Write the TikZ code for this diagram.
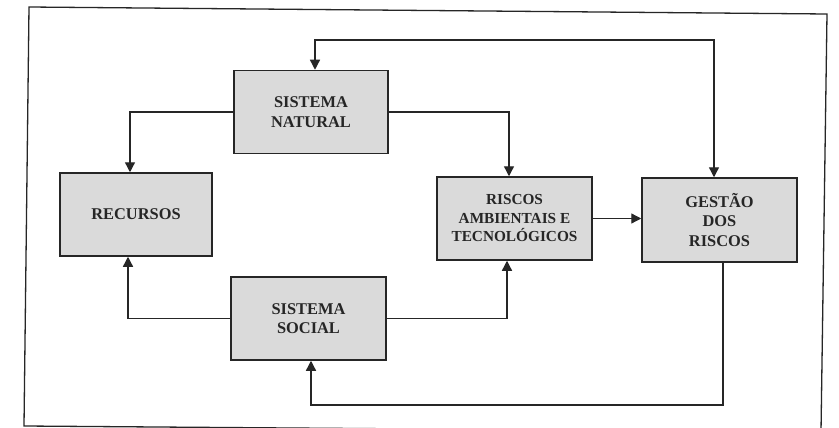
\documentclass[tikz,border=0pt]{standalone}
\usepackage{fontspec}
\setmainfont{Liberation Serif}
\usetikzlibrary{arrows.meta}
\definecolor{boxfill}{HTML}{DADADA}
\definecolor{ink}{HTML}{262626}
\tikzset{
  blk/.style={draw=ink, line width=1.5pt, fill=boxfill, minimum width=154pt, minimum height=83pt,
    align=center, inner sep=2pt, font=\fontsize{16.4}{19.5}\selectfont\bfseries, text=black!85},
  conn/.style={draw=ink, line width=1.3pt, -{Triangle[length=10pt,width=10pt]}},
  conn2/.style={draw=ink, line width=1.3pt, {Triangle[length=10pt,width=10pt]}-{Triangle[length=10pt,width=10pt]}},
}
\begin{document}
\begin{tikzpicture}[x=1pt,y=-1pt]
\useasboundingbox (0,0) rectangle (839,428);
\clip (0,0) rectangle (839,428);
\fill[white] (0,0) rectangle (839,428);
% outer frame
\draw[ink, line width=1.3pt] (29,7) -- (827,14) -- (821,432) -- (24,426) -- cycle;
% boxes
\node[blk] (nat) at (311,112) {SISTEMA\\NATURAL};
\node[blk, minimum width=152pt] (rec) at (136,214.5) {RECURSOS};
\node[blk, minimum width=155pt] (soc) at (308.5,318.5) {SISTEMA\\SOCIAL};
\node[blk, minimum width=155pt, font=\fontsize{15.3}{18.5}\selectfont\bfseries] (ris) at (514.5,218.5) {RISCOS\\AMBIENTAIS E\\TECNOLÓGICOS};
\node[blk, minimum width=155pt, minimum height=84pt] (ges) at (719.5,220) {GESTÃO\\DOS\\RISCOS};
% route coordinates
\coordinate (tl) at (315,40);
\coordinate (tr) at (714,40);
\coordinate (bl) at (311,405);
\coordinate (br) at (723,405);
% connectors
\draw[conn] (nat.west) -| ([xshift=-6pt]rec.north);
\draw[conn] (nat.east) -| ([xshift=-5.5pt]ris.north);
\draw[conn] (soc.west) -| ([xshift=-8pt]rec.south);
\draw[conn] (soc.east) -| ([xshift=-7.5pt]ris.south);
\draw[conn] (ris.east) -- (ges.west |- ris.east);
\draw[conn2] (nat.north -| tl) -- (tl) -- (tr) -- (ges.north -| tr);
\draw[conn] (ges.south -| br) -- (br) -- (bl) -- (soc.south -| bl);
\end{tikzpicture}
\end{document}
